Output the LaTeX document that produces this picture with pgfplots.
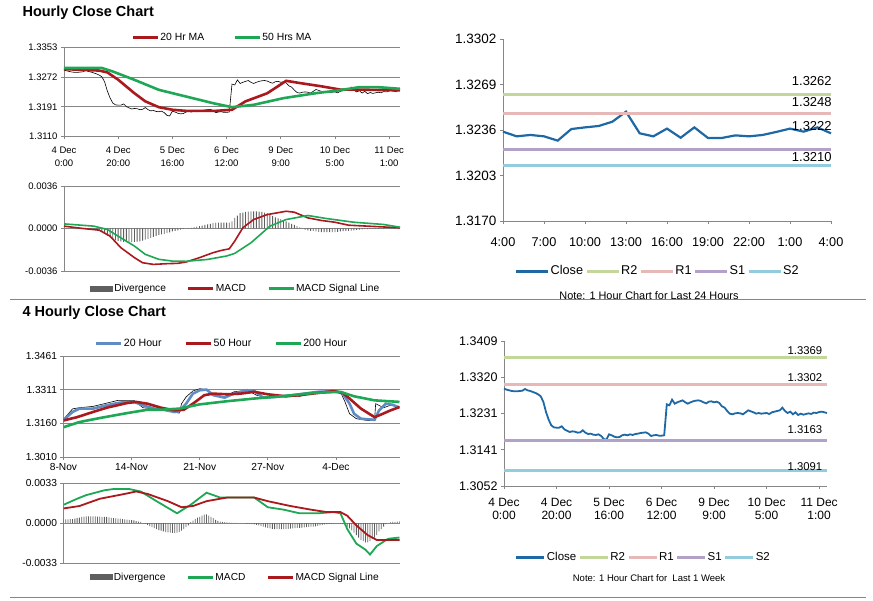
\documentclass[border=0pt]{standalone}
\usepackage{pgfplots}
\usepackage{pgfplotstable}
\pgfplotsset{compat=1.18}
\usepackage{fontspec}
\setmainfont{Liberation Sans}

\definecolor{maRed}{RGB}{170,25,30}
\definecolor{maGreen}{RGB}{30,168,85}
\definecolor{maBlue}{RGB}{95,140,195}
\definecolor{closeBlue}{RGB}{30,105,165}
\definecolor{rTwo}{RGB}{196,215,155}
\definecolor{rOne}{RGB}{230,185,184}
\definecolor{sOne}{RGB}{178,162,199}
\definecolor{sTwo}{RGB}{147,205,221}
\definecolor{divGray}{RGB}{95,95,95}
\definecolor{axGray}{RGB}{134,134,134}

\newcommand{\fs}[2]{\fontsize{#1}{#2}\selectfont}

% hourly closes, 4 Dec 0:00 onwards, one row per trading hour
\pgfplotstableread{
idx close
0 1.32916
1 1.32892
2 1.32875
3 1.32859
4 1.32851
5 1.32851
6 1.32859
7 1.32867
8 1.32908
9 1.32875
10 1.32859
11 1.32834
12 1.32810
13 1.32777
14 1.32728
15 1.32588
16 1.32342
17 1.32153
18 1.32014
19 1.31964
20 1.31956
21 1.31956
22 1.31989
23 1.31915
24 1.31882
25 1.31850
26 1.31866
27 1.31858
28 1.31833
29 1.31841
30 1.31891
31 1.31833
32 1.31800
33 1.31809
34 1.31784
35 1.31776
36 1.31792
37 1.31751
38 1.31677
39 1.31661
40 1.31792
41 1.31768
42 1.31735
43 1.31718
44 1.31726
45 1.31768
46 1.31784
47 1.31768
48 1.31792
49 1.31776
50 1.31800
51 1.31809
52 1.31825
53 1.31833
54 1.31841
55 1.31809
56 1.31751
57 1.31768
58 1.31776
59 1.31759
60 1.31759
61 1.31768
62 1.32531
63 1.32506
64 1.32646
65 1.32547
66 1.32580
67 1.32605
68 1.32629
69 1.32580
70 1.32547
71 1.32580
72 1.32605
73 1.32621
74 1.32629
75 1.32613
76 1.32580
77 1.32555
78 1.32596
79 1.32605
80 1.32580
81 1.32596
82 1.32564
83 1.32481
84 1.32449
85 1.32367
86 1.32301
87 1.32285
88 1.32309
89 1.32317
90 1.32309
91 1.32285
92 1.32334
93 1.32383
94 1.32358
95 1.32334
96 1.32301
97 1.32317
98 1.32301
99 1.32309
100 1.32317
101 1.32293
102 1.32334
103 1.32350
104 1.32367
105 1.32383
106 1.32449
107 1.32367
108 1.32317
109 1.32350
110 1.32285
111 1.32334
112 1.32268
113 1.32301
114 1.32276
115 1.32293
116 1.32309
117 1.32293
118 1.32326
119 1.32317
120 1.32342
121 1.32350
122 1.32334
123 1.32317
}\hourly

\pgfplotsset{
  panel/.style={
    scale only axis, anchor=north west,
    axis x line*=bottom, axis y line*=left,
    axis line style={-, axGray, line width=0.8pt},
    every tick/.style={axGray, line width=0.8pt},
    tick align=outside, major tick length=3pt,
    scaled ticks=false,
    grid style={axGray, line width=0.8pt},
    legend style={draw=none, fill=none, legend columns=-1, anchor=center,
      nodes={inner sep=1pt}},
    legend cell align=left,
  },
  lineimg/.style={legend image code/.code={\draw[##1, line width=3pt] (0pt,0pt) -- (#1,0pt);}},
  divimg/.style={legend image code/.code={\fill[divGray] (0pt,-3pt) rectangle (#1,3pt);}},
  dates/.style={
    xtick={0,20,40,60,80,100,120},
    xticklabels={{4 Dec\\0:00},{4 Dec\\20:00},{5 Dec\\16:00},{6 Dec\\12:00},{9 Dec\\9:00},{10 Dec\\5:00},{11 Dec\\1:00}},
  },
}

\begin{document}
\begin{tikzpicture}

\node[anchor=west, font=\bfseries\fs{14.5}{16}] at (19pt,-13pt) {Hourly Close Chart};
\node[anchor=west, font=\bfseries\fs{14.5}{16}] at (19pt,-313pt) {4 Hourly Close Chart};
\draw[axGray, line width=1pt] (10pt,-300pt) -- (866pt,-300pt);
\draw[axGray, line width=1pt] (10pt,-597pt) -- (866pt,-597pt);
\node[font=\fs{10.9}{12}] at (649pt,-296pt) {Note: 1 Hour Chart for Last 24 Hours};
\node[font=\fs{9.5}{11}] at (649pt,-578pt) {Note: 1 Hour Chart for\ \ Last 1 Week};

% ---------------- hourly close, top left
\begin{axis}[panel, dates, at={(64pt,-47.5pt)}, width=336pt, height=89pt,
  xmin=0, xmax=124, ymin=1.3110, ymax=1.3353,
  ytick={1.3110,1.3191,1.3272,1.3353},
  yticklabels={1.3110,1.3191,1.3272,1.3353},
  ymajorgrids,
  xticklabel style={align=center, font=\fs{9.5}{13}, yshift=-4pt},
  yticklabel style={font=\fs{9.5}{11}},
  legend style={at={(0.47,1.112)}, font=\fs{10.4}{12},
    /tikz/every even column/.append style={column sep=28pt}},
  lineimg=25pt,
  ]
\addplot[black, line width=0.6pt, forget plot] table[x=idx, y=close] {\hourly};
\addplot[maRed, line width=2.6pt] coordinates {
(0,1.3294) (13,1.3290) (16,1.3285) (20,1.3265) (26,1.3228) (30,1.3206)
(35,1.3190) (40,1.3183) (45,1.3180) (56,1.3180) (62,1.3183) (67,1.3206)
(75,1.3228) (82,1.3262) (87,1.3256) (95,1.3247) (102,1.3238) (109,1.3238)
(124,1.3236)};
\addplot[maGreen, line width=2.6pt] coordinates {
(0,1.3297) (14,1.3297) (18,1.32875) (26,1.32647) (35,1.32374) (45,1.32192)
(55,1.32010) (62,1.31901) (70,1.31965) (81,1.32147) (93,1.32283)
(101,1.32356) (109,1.32447) (116,1.32447) (124,1.32402)};
\legend{20 Hr MA, 50 Hrs MA}
\end{axis}

% ---------------- MACD, top left
\begin{axis}[panel, at={(64pt,-186pt)}, width=336pt, height=85pt,
  axis x line=none,
  xmin=0, xmax=124, ymin=-0.0036, ymax=0.0036,
  ytick={-0.0036,0,0.0036},
  yticklabels={-0.0036,0.0000,0.0036},
  ymajorgrids,
  yticklabel style={font=\fs{9.5}{11}},
  legend style={at={(0.51,-0.21)}, font=\fs{10.2}{12},
    /tikz/every even column/.append style={column sep=20pt}},
  lineimg=25pt,
  ]
\addplot[ybar, bar width=0.9pt, fill=divGray, draw=none, divimg=23pt] table {
0 0.00003
1 0.00003
2 0.00002
3 0.00002
4 0.00001
5 0.00001
6 0
7 -0.00002
8 -0.00003
9 -0.00004
10 -0.00006
11 -0.00008
12 -0.0001
13 -0.00018
14 -0.00025
15 -0.0004
16 -0.0006
17 -0.0007
18 -0.0009
19 -0.0010
20 -0.00105
21 -0.0011
22 -0.00113
23 -0.00115
24 -0.00115
25 -0.00115
26 -0.00114
27 -0.00112
28 -0.0011
29 -0.00102
30 -0.00095
31 -0.00088
32 -0.0008
33 -0.0007
34 -0.00063
35 -0.00055
36 -0.0005
37 -0.00045
38 -0.0004
39 -0.00032
40 -0.00025
41 -0.0002
42 -0.00015
43 -0.0001
44 -0.00005
45 0
46 0.00003
47 0.00006
48 0.0001
49 0.00015
50 0.0002
51 0.00025
52 0.0003
53 0.00035
54 0.0004
55 0.00045
56 0.0005
57 0.0005
58 0.0005
59 0.0005
60 0.0005
61 0.0005
62 0.0006
63 0.0009
64 0.0011
65 0.0013
66 0.00135
67 0.0014
68 0.00142
69 0.00145
70 0.00146
71 0.00145
72 0.00142
73 0.0014
74 0.00135
75 0.0013
76 0.00115
77 0.00105
78 0.00095
79 0.00085
80 0.0008
81 0.0007
82 0.0006
83 0.0005
84 0.0004
85 0.0003
86 0.0002
87 0.0001
88 0.00002
89 -0.0001
90 -0.00015
91 -0.0002
92 -0.0002
93 -0.00025
94 -0.00028
95 -0.0003
96 -0.0003
97 -0.0003
98 -0.0003
99 -0.0003
100 -0.0003
101 -0.00028
102 -0.00025
103 -0.00022
104 -0.0002
105 -0.0002
106 -0.00018
107 -0.00015
108 -0.00012
109 -0.0001
110 -0.00008
111 -0.00006
112 -0.00005
113 -0.00004
114 -0.00004
115 -0.00003
116 -0.00003
117 -0.00003
118 -0.00003
119 -0.00002
120 -0.00002
121 -0.00001
122 -0.00001
123 0
124 0
};
\addplot[maRed, line width=1.6pt] coordinates {
(0,0.0002) (7,0.0) (13,-0.00014) (17,-0.00065) (21,-0.00163) (26,-0.00247)
(29,-0.00290) (33,-0.00304) (38,-0.00298) (42,-0.00295) (45,-0.00284)
(50,-0.00247) (55,-0.00205) (58,-0.00186) (61,-0.00172) (63,-0.00107)
(66,0.00006) (70,0.00076) (75,0.00118) (82,0.00146) (85,0.00138)
(90,0.00090) (95,0.00068) (100,0.00053) (105,0.00028) (112,0.00020)
(124,0.00006)};
\addplot[maGreen, line width=1.6pt] coordinates {
(0,0.00039) (11,0.0002) (16,-0.00008) (21,-0.00079) (26,-0.00149)
(30,-0.00219) (35,-0.00261) (40,-0.00276) (45,-0.00278) (53,-0.00262)
(60,-0.00233) (63,-0.00211) (69,-0.00121) (76,0.0002) (82,0.00076)
(90,0.0011) (97,0.00084) (107,0.00053) (118,0.00034) (124,0.00011)};
\legend{Divergence, MACD, MACD Signal Line}
\end{axis}

% ---------------- last 24 hours, top right
\begin{axis}[panel, at={(503pt,-39pt)}, width=328pt, height=182pt,
  clip=false,
  xmin=0, xmax=24, ymin=1.3170, ymax=1.3302,
  xtick={0,3,...,24},
  xticklabels={4:00,7:00,10:00,13:00,16:00,19:00,22:00,1:00,4:00},
  ytick={1.3170,1.3203,1.3236,1.3269,1.3302},
  yticklabels={1.3170,1.3203,1.3236,1.3269,1.3302},
  xticklabel style={font=\fs{12.7}{14}, yshift=-10pt},
  yticklabel style={font=\fs{13.5}{15}},
  legend style={at={(0.47,-0.275)}, font=\fs{12.7}{14},
    /tikz/every even column/.append style={column sep=1pt}},
  lineimg=32pt,
  ]
\addplot[closeBlue, line width=2.2pt] coordinates {
(0,1.32348) (1,1.32314) (2,1.32324) (3,1.32314) (4,1.32283) (5,1.32367)
(6,1.32379) (7,1.32389) (8,1.32420) (9,1.32493) (10,1.32336) (11,1.32314)
(12,1.32370) (13,1.32304) (14,1.32379) (15,1.32302) (16,1.32302)
(17,1.32321) (18,1.32314) (19,1.32324) (20,1.32346) (21,1.32370)
(22,1.32348) (23,1.32379) (24,1.32336)};
\addplot[rTwo, line width=3pt] coordinates {(0,1.3262) (24,1.3262)}
  node[pos=1, anchor=east, xshift=5.5pt, yshift=13pt, text=black, font=\fs{13}{14}] {1.3262};
\addplot[rOne, line width=3pt] coordinates {(0,1.3248) (24,1.3248)}
  node[pos=1, anchor=east, xshift=5.5pt, yshift=11.5pt, text=black, font=\fs{13}{14}] {1.3248};
\addplot[sOne, line width=3pt] coordinates {(0,1.3222) (24,1.3222)}
  node[pos=1, anchor=east, xshift=5.5pt, yshift=23pt, text=black, font=\fs{13}{14}] {1.3222};
\addplot[sTwo, line width=3pt] coordinates {(0,1.3210) (24,1.3210)}
  node[pos=1, anchor=east, xshift=5.5pt, yshift=9pt, text=black, font=\fs{13}{14}] {1.3210};
\legend{Close, R2, R1, S1, S2}
\end{axis}

% ---------------- last week, bottom right
\begin{axis}[panel, dates, at={(504pt,-341pt)}, width=323pt, height=145pt,
  clip=false,
  xmin=0, xmax=123, ymin=1.3052, ymax=1.3409,
  ytick={1.30520,1.31413,1.32305,1.33198,1.34090},
  yticklabels={1.3052,1.3141,1.3231,1.3320,1.3409},
  xticklabel style={align=center, font=\fs{12}{13}, yshift=-6pt},
  yticklabel style={font=\fs{12.5}{14}},
  legend style={at={(0.43,-0.49)}, font=\fs{11.5}{13},
    /tikz/every even column/.append style={column sep=1pt}},
  lineimg=28pt,
  ]
\addplot[closeBlue, line width=1.8pt] table[x=idx, y=close] {\hourly};
\addplot[rTwo, line width=3pt] coordinates {(0,1.3369) (123,1.3369)}
  node[pos=1, anchor=east, yshift=6.2pt, text=black, font=\fs{11.3}{13}] {1.3369};
\addplot[rOne, line width=3pt] coordinates {(0,1.3302) (123,1.3302)}
  node[pos=1, anchor=east, yshift=6.9pt, text=black, font=\fs{11.3}{13}] {1.3302};
\addplot[sOne, line width=3pt] coordinates {(0,1.3163) (123,1.3163)}
  node[pos=1, anchor=east, yshift=11.6pt, text=black, font=\fs{11.3}{13}] {1.3163};
\addplot[sTwo, line width=3pt] coordinates {(0,1.3091) (123,1.3091)}
  node[pos=1, anchor=east, yshift=4pt, text=black, font=\fs{11.3}{13}] {1.3091};
\legend{Close, R2, R1, S1, S2}
\end{axis}

% ---------------- 4 hourly close, bottom left
\begin{axis}[panel, at={(63.5pt,-356pt)}, width=336pt, height=101pt,
  xmin=0, xmax=148, ymin=1.3010, ymax=1.3461,
  xtick={0,30,60,90,120},
  xticklabels={8-Nov,14-Nov,21-Nov,27-Nov,4-Dec},
  ytick={1.3010,1.31603,1.33107,1.3461},
  yticklabels={1.3010,1.3160,1.3311,1.3461},
  ymajorgrids,
  xticklabel style={font=\fs{10.2}{12}},
  yticklabel style={font=\fs{10.2}{12}},
  legend style={at={(0.47,1.12)}, font=\fs{10.6}{12},
    /tikz/every even column/.append style={column sep=22pt}},
  lineimg=25pt,
  ]
\addplot[black, line width=0.6pt, forget plot] coordinates {
(0,1.3178) (4,1.3225) (7,1.3230) (13,1.3236) (18,1.3248) (24,1.3263)
(31,1.3263) (35,1.3230) (40,1.3225) (46,1.3215) (51,1.3206) (52,1.3248)
(54,1.3278) (57,1.3305) (60,1.3315) (63,1.3311) (66,1.3286) (71,1.3278)
(75,1.3301) (81,1.3308) (85,1.3286) (90,1.3275) (99,1.3286) (104,1.3281)
(112,1.3301) (118,1.3308) (122,1.3301) (124,1.3256) (126,1.3203)
(129,1.3181) (134,1.3173) (137,1.3173) (137.5,1.3248) (141,1.3230)
(144,1.3241) (148,1.3236)};
\addplot[maBlue, line width=2.6pt] coordinates {
(0,1.3176) (4,1.3211) (7,1.3226) (13,1.3226) (19,1.3241) (25,1.3253)
(31,1.3256) (35,1.3241) (40,1.3226) (44,1.3221) (49,1.3211) (51,1.3215)
(54,1.3248) (57,1.3293) (60,1.3308) (63,1.3311) (66,1.3286) (71,1.3275)
(75,1.3293) (81,1.3308) (84,1.3305) (88,1.3275) (93,1.3278) (101,1.3286)
(112,1.3301) (120,1.3304) (123,1.3293) (126,1.3248) (128,1.3203)
(131,1.3181) (137,1.3176) (139,1.3218) (142,1.3248) (145,1.3243)
(148,1.3230)};
\addplot[maRed, line width=2.6pt] coordinates {
(0,1.3173) (6,1.3188) (13,1.3211) (19,1.3230) (28,1.3251) (32,1.3256)
(37,1.3248) (43,1.3230) (49,1.3218) (53,1.3221) (57,1.3248) (62,1.3286)
(66,1.3293) (72,1.3290) (78,1.3293) (84,1.3301) (90,1.3290) (98,1.3281)
(104,1.3286) (112,1.3296) (119,1.3304) (123,1.3296) (126,1.3271)
(131,1.3226) (137,1.3188) (140,1.3200) (144,1.3218) (148,1.3233)};
\addplot[maGreen, line width=2.6pt] coordinates {
(0,1.3143) (7,1.3166) (16,1.3184) (28,1.3206) (37,1.3221) (43,1.3221)
(51,1.3226) (60,1.3245) (72,1.3259) (84,1.3271) (96,1.3281) (107,1.3293)
(110,1.3296) (122,1.3301) (128,1.3281) (137,1.3263) (148,1.3256)};
\legend{20 Hour, 50 Hour, 200 Hour}
\end{axis}

% ---------------- MACD, bottom left
\begin{axis}[panel, at={(63.5pt,-483pt)}, width=336pt, height=80pt,
  axis x line=none,
  xmin=0, xmax=148, ymin=-0.0033, ymax=0.0033,
  ytick={-0.0033,0,0.0033},
  yticklabels={-0.0033,0.0000,0.0033},
  ymajorgrids,
  yticklabel style={font=\fs{10.2}{12}},
  legend style={at={(0.51,-0.18)}, font=\fs{10.2}{12},
    /tikz/every even column/.append style={column sep=20pt}},
  lineimg=25pt,
  ]
\addplot[ybar, bar width=0.8pt, fill=divGray, draw=none, divimg=23pt] table {
0 0.0003
1 0.0003
2 0.0003
3 0.00032
4 0.00033
5 0.00036
6 0.0004
7 0.00045
8 0.0005
9 0.00053
10 0.00055
11 0.00055
12 0.00055
13 0.00055
14 0.00054
15 0.00053
16 0.00052
17 0.00051
18 0.0005
19 0.0005
20 0.00047
21 0.00043
22 0.0004
23 0.00038
24 0.00037
25 0.00036
26 0.00033
27 0.0003
28 0.00028
29 0.00026
30 0.00023
31 0.00021
32 0.00016
33 0.00012
34 0.00009
35 0
36 -0.00008
37 -0.00016
38 -0.00025
39 -0.00035
40 -0.00043
41 -0.0005
42 -0.00058
43 -0.00063
44 -0.0007
45 -0.00075
46 -0.00078
47 -0.0008
48 -0.00082
49 -0.00083
50 -0.0008
51 -0.00073
52 -0.00062
53 -0.0005
54 -0.00035
55 -0.0002
56 0.00005
57 0.0002
58 0.00035
59 0.00045
60 0.0005
61 0.0006
62 0.0007
63 0.00072
64 0.0006
65 0.0005
66 0.0004
67 0.00025
68 0.00018
69 0.00012
70 0.0001
71 0.00007
72 0.00005
73 0.00003
74 0.00002
75 0.00001
76 0.00001
77 0
78 -0.00001
79 -0.00002
80 -0.00003
81 -0.00005
82 -0.00008
83 -0.0001
84 -0.00012
85 -0.00015
86 -0.0002
87 -0.00025
88 -0.0003
89 -0.00036
90 -0.0004
91 -0.00045
92 -0.00048
93 -0.0005
94 -0.0005
95 -0.0005
96 -0.0005
97 -0.0005
98 -0.0005
99 -0.00048
100 -0.00046
101 -0.00044
102 -0.00042
103 -0.0004
104 -0.0004
105 -0.00038
106 -0.00036
107 -0.00034
108 -0.00032
109 -0.0003
110 -0.0003
111 -0.00028
112 -0.00024
113 -0.0002
114 -0.00016
115 -0.00012
116 -0.0001
117 -0.00007
118 -0.00005
119 -0.00003
120 -0.00003
121 -0.00004
122 -0.00005
123 -0.0001
124 -0.0002
125 -0.0003
126 -0.00045
127 -0.0006
128 -0.0008
129 -0.001
130 -0.0012
131 -0.0014
132 -0.0015
133 -0.0016
134 -0.0016
135 -0.0015
136 -0.0013
137 -0.0012
138 -0.001
139 -0.0007
140 -0.0005
141 -0.0003
142 -0.0001
143 0
144 0.00005
145 0.0001
146 0.0001
147 0.00012
148 0.00014
};
\addplot[maGreen, line width=1.8pt] coordinates {
(0,0.0015) (6,0.0020) (10,0.0023) (18,0.0027) (22,0.0028) (29,0.0028)
(34,0.0026) (41,0.0018) (50,0.0008) (56,0.0015) (63,0.0025) (69,0.0021)
(84,0.0021) (90,0.0013) (97,0.0011) (104,0.0008) (112,0.0008) (119,0.0009)
(122,0.0008) (125,-0.0005) (129,-0.0017) (133,-0.0022) (135,-0.0026)
(138,-0.0019) (143,-0.0013) (148,-0.0012)};
\addplot[maRed, line width=1.8pt] coordinates {
(0,0.0012) (7,0.0014) (16,0.0020) (27,0.0024) (32,0.0026) (37,0.0024)
(46,0.0018) (52,0.0013) (57,0.0014) (63,0.0018) (72,0.0021) (84,0.0021)
(90,0.0018) (100,0.0014) (109,0.0011) (116,0.0009) (122,0.0009)
(125,0.0006) (129,-0.0002) (134,-0.0010) (138,-0.0014) (148,-0.0014)};
\legend{Divergence, MACD, MACD Signal Line}
\end{axis}

\pgfresetboundingbox
\path[use as bounding box] (0pt,0pt) rectangle (873pt,-601pt);
\end{tikzpicture}
\end{document}
